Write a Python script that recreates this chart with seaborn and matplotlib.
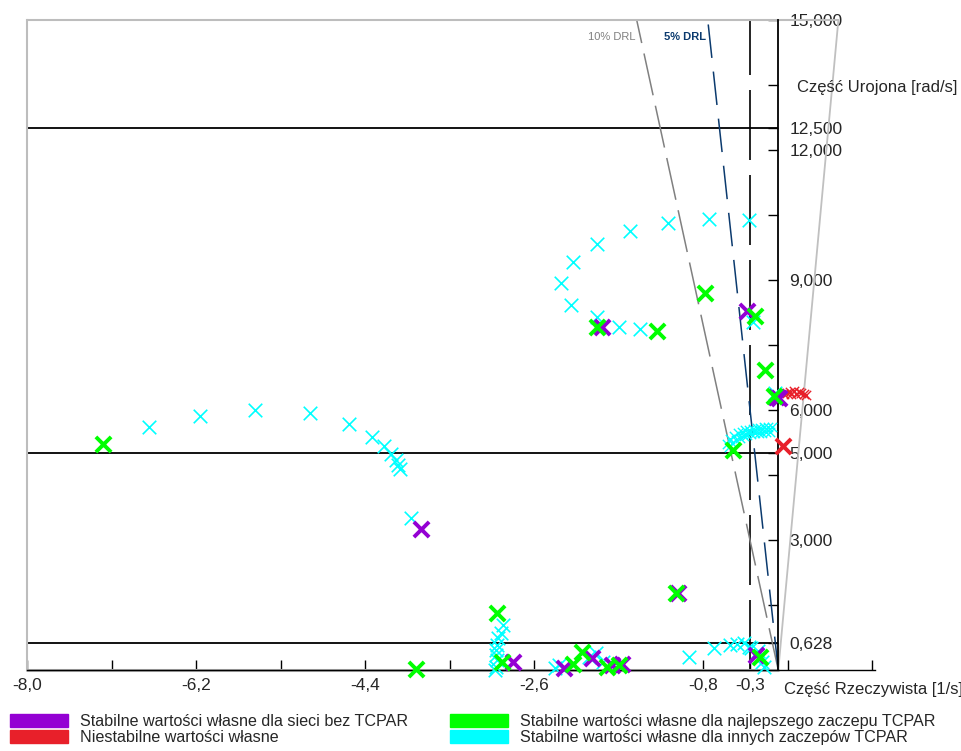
import seaborn as sns
import numpy as np
import matplotlib.pyplot as plt
import pandas as pd
from matplotlib.patches import Patch

# odczytane wartości własne (część rzeczywista [1/s], urojona [rad/s])
purple_re = [-3.80, -1.88, -0.33, 0.01, -2.83, -2.28, -1.98, -1.77, -1.66, -1.07, -0.24, -0.02]
purple_im = [3.25, 7.92, 8.29, 6.27, 0.19, 0.05, 0.27, 0.12, 0.15, 1.77, 0.35, 6.30]

green_re = [-7.19, -3.86, -1.93, -1.29, -0.78, -0.25, -0.14, -0.05, -0.48, -2.99, -2.94,
            -2.19, -2.09, -1.82, -1.70, -1.09, -0.19]
green_im = [5.22, 0.03, 7.91, 7.83, 8.69, 8.17, 6.92, 6.32, 5.08, 1.31, 0.19,
            0.15, 0.42, 0.08, 0.12, 1.77, 0.31]

cyan_re = [-6.70, -6.16, -5.57, -4.99, -4.57, -4.33, -4.20, -4.12, -4.07, -4.05, -4.03, -3.91,
           -1.17, -1.58, -1.93, -2.19, -2.31, -2.21, -1.93, -1.70, -1.47, -0.74, -0.31, -0.27,
           -0.03, -2.93, -2.95, -2.98, -2.99, -3.01, -3.01, -2.99, -3.01, -3.02,
           -2.34, -2.38, -2.02, -1.87, -1.94,
           -0.95, -0.68, -0.51, -0.44, -0.37, -0.31, -0.29, -0.22, -0.17, -0.15]
cyan_im = [5.60, 5.87, 5.99, 5.92, 5.67, 5.38, 5.17, 4.98, 4.85, 4.73, 4.65, 3.50,
           10.32, 10.12, 9.82, 9.42, 8.92, 8.42, 8.14, 7.92, 7.86, 10.41, 10.39, 8.03,
           6.39, 1.04, 0.85, 0.73, 0.58, 0.46, 0.35, 0.23, 0.07, 0.00,
           0.12, 0.05, 0.31, 0.19, 0.40,
           0.29, 0.50, 0.58, 0.61, 0.63, 0.54, 0.50, 0.45, 0.19, 0.08]

# gęste pasmo pod 5,6 rad/s
band_re = [-0.55, -0.51, -0.47, -0.43, -0.39, -0.35, -0.31, -0.27, -0.23, -0.19, -0.15, -0.11, -0.07,
           -0.53, -0.49, -0.45, -0.41, -0.37, -0.33, -0.29, -0.25, -0.21, -0.17, -0.13, -0.09]
band_im = [5.22, 5.32, 5.40, 5.46, 5.50, 5.53, 5.55, 5.57, 5.58, 5.59, 5.60, 5.60, 5.60,
           5.15, 5.24, 5.31, 5.36, 5.40, 5.43, 5.45, 5.46, 5.47, 5.48, 5.49, 5.49]

red_re = [0.06, 0.09, 0.12, 0.14, 0.17, 0.19, 0.22, 0.24, 0.27, 0.30]
red_im = [6.36, 6.40, 6.42, 6.38, 6.43, 6.37, 6.41, 6.39, 6.37, 6.34]
red_big_re = [0.05]
red_big_im = [5.18]

x_major = [-8.0, -6.2, -4.4, -2.6, -0.8, -0.3]
x_minor = [-7.1, -5.3, -3.5, -1.7, 0.1, 1.0]
y_major = [0.628, 3.0, 5.0, 6.0, 9.0, 12.0, 12.5, 15.0]
y_minor = [1.5, 4.5, 7.5, 10.5, 13.5]
h_lines = [0.628, 5.0, 12.5]

legend_labels = ["Stabilne wartości własne dla sieci bez TCPAR",
                 "Niestabilne wartości własne",
                 "Stabilne wartości własne dla najlepszego zaczepu TCPAR",
                 "Stabilne wartości własne dla innych zaczepów TCPAR"]

PURPLE, RED, GREEN, CYAN = "#9400D3", "#E8202A", "#00FF00", "#00FFFF"

sns.set_style("white")
plt.rcParams['font.family'] = ['Liberation Sans', 'DejaVu Sans']

fig = plt.figure(figsize=(9.61, 7.51), dpi=100)
ax = fig.add_axes([27 / 961, 1 - 670 / 751, 848 / 961, 650 / 751])
ax.set_xlim(-8, 1.03)
ax.set_ylim(0, 15)

# linie pomocnicze
ax.hlines(h_lines, -8, 0, color="black", lw=1.3, zorder=1)
ax.plot([-0.3, -0.3], [0, 15], color="black", lw=1.2, ls=(0, (42, 9)), zorder=1)
zeta10 = 0.10 / np.sqrt(1 - 0.10 ** 2)
zeta5 = 0.05 / np.sqrt(1 - 0.05 ** 2)
ax.plot([0, -15 * zeta10], [0, 15], color="#808080", lw=1.1, ls=(0, (28, 7)), zorder=1)
ax.plot([0, -15 * zeta5], [0, 15], color="#0b3a6e", lw=1.1, ls=(0, (22, 9)), zorder=1)
ax.plot([0, 0.64], [0, 15], color="#c0c0c0", lw=1.3, zorder=1, clip_on=False)
ax.plot([-8, 0.64], [15, 15], color="#bdbdbd", lw=1.5, zorder=1, clip_on=False)
ax.plot([-8, 0], [0, 0], color="#b4b4b4", lw=2.2, zorder=2, clip_on=False)

ax.text(-1.52, 14.6, "10% DRL", color="#808080", fontsize=8, ha="right", va="center")
ax.text(-0.77, 14.6, "5% DRL", color="#0b3a6e", fontsize=8, ha="right", va="center",
        fontweight="bold")

# wartości własne
sns.scatterplot(x=cyan_re, y=cyan_im, marker="x", color=CYAN, s=95, linewidth=1.2,
                ax=ax, clip_on=False, zorder=3)
sns.scatterplot(x=band_re, y=band_im, marker="x", color=CYAN, s=45, linewidth=1.0,
                ax=ax, clip_on=False, zorder=3)
sns.scatterplot(x=red_re, y=red_im, marker="x", color=RED, s=45, linewidth=1.0,
                ax=ax, clip_on=False, zorder=3)
sns.scatterplot(x=purple_re, y=purple_im, marker="x", color=PURPLE, s=120, linewidth=2.8,
                ax=ax, clip_on=False, zorder=4)
sns.scatterplot(x=green_re, y=green_im, marker="x", color=GREEN, s=120, linewidth=2.8,
                ax=ax, clip_on=False, zorder=5)
sns.scatterplot(x=red_big_re, y=red_big_im, marker="x", color=RED, s=120, linewidth=2.8,
                ax=ax, clip_on=False, zorder=5)

# osie
ax.spines["top"].set_visible(False)
ax.spines["left"].set_color("#bdbdbd")
ax.spines["left"].set_linewidth(1.5)
ax.spines["right"].set_position(("data", 0))
ax.spines["right"].set_bounds(0, 15)
ax.spines["right"].set_color("black")
ax.spines["right"].set_linewidth(1.3)
ax.spines["bottom"].set_color("black")
ax.spines["bottom"].set_linewidth(1.0)

ax.yaxis.tick_right()
ax.set_yticks(y_major)
ax.set_yticklabels([f"{v:.3f}".replace(".", ",") for v in y_major])
ax.set_yticks(y_minor, minor=True)
ax.set_xticks(x_major)
ax.set_xticklabels([f"{v:.1f}".replace(".", ",") for v in x_major])
ax.set_xticks(x_minor, minor=True)
ax.tick_params(axis="y", which="both", direction="in", length=7, width=1, color="black",
               labelsize=12.5, pad=8)
ax.tick_params(axis="x", which="both", direction="in", length=7, width=1, color="black",
               labelsize=12.5, pad=6, bottom=True)
ax.grid(False)

ax.text(0.20, 13.45, "Część Urojona [rad/s]", fontsize=12, ha="left", va="center")
ax.text(0.06, -0.46, "Część Rzeczywista [1/s]", fontsize=12, ha="left", va="center",
        clip_on=False)

handles = [Patch(color=c) for c in [PURPLE, RED, GREEN, CYAN]]
fig.legend(handles, legend_labels, loc="upper left", bbox_to_anchor=(10 / 961, 1 - 714 / 751),
           ncol=2, frameon=False, fontsize=11.6, handlelength=3.6, handleheight=0.9,
           labelspacing=0.05, columnspacing=2.6, handletextpad=0.75,
           borderpad=0, borderaxespad=0)

fig.savefig("out.png", dpi=100)
